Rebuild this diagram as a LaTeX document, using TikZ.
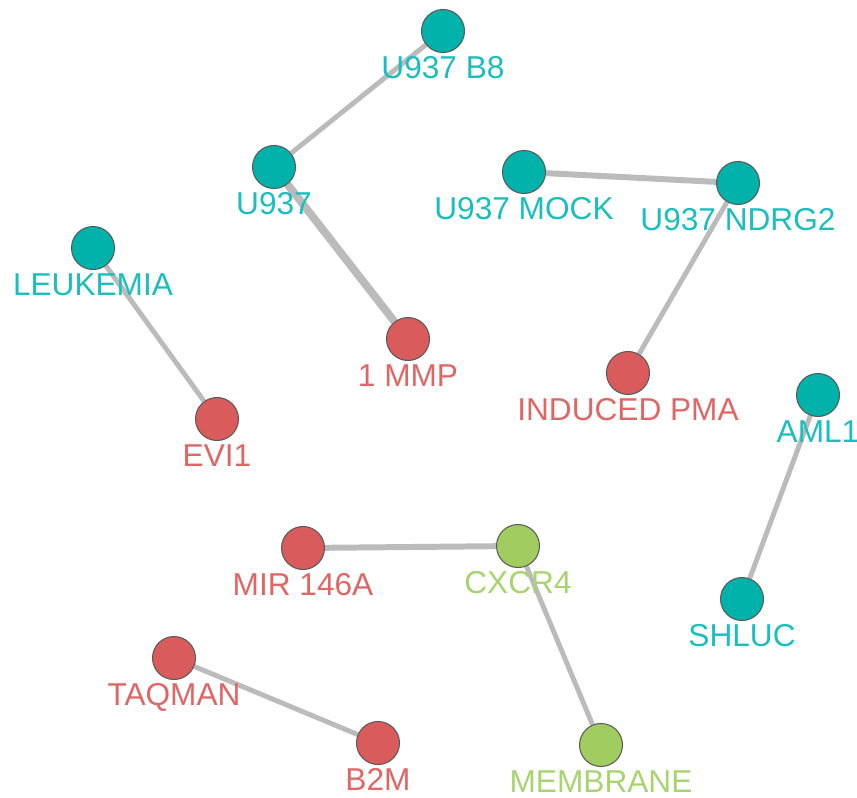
\documentclass[tikz,border=0pt]{standalone}
\usepackage{fontspec}
\setmainfont{Liberation Sans}
\usetikzlibrary{backgrounds}

\definecolor{tealn}{RGB}{0,178,170}
\definecolor{tealt}{RGB}{26,190,190}
\definecolor{redn}{RGB}{217,91,91}
\definecolor{redt}{RGB}{224,102,102}
\definecolor{greenn}{RGB}{160,204,96}
\definecolor{greent}{RGB}{168,212,111}
\definecolor{edgegray}{RGB}{187,187,187}

\begin{document}
\begin{tikzpicture}[x=0.02cm, y=-0.02cm,
  every label/.style={inner sep=0pt, font=\fontsize{18}{20}\selectfont},
  label distance=0.07cm,
  gene/.style={circle, draw=black!65, line width=0.6pt, minimum size=0.86cm, inner sep=0pt},
  teal/.style={gene, fill=tealn},
  red/.style={gene, fill=redn},
  green/.style={gene, fill=greenn},
  link/.style={draw=edgegray, line width=2.8pt},
  ]

\useasboundingbox (0,0) rectangle (857,797);

\node[teal, label={[text=tealt]below:U937 B8}] (u937b8) at (443,31) {};
\node[teal, label={[text=tealt]below:U937}] (u937) at (274,167) {};
\node[teal, label={[text=tealt]below:U937 MOCK}] (mock) at (524,172) {};
\node[teal, label={[text=tealt]below:U937 NDRG2}] (ndrg2) at (738,183) {};
\node[teal, label={[text=tealt]below:LEUKEMIA}] (leuk) at (93,248) {};
\node[red, label={[text=redt]below:1 MMP}] (mmp) at (408,339) {};
\node[red, label={[text=redt]below:INDUCED PMA}] (pma) at (628,373) {};
\node[teal, label={[text=tealt]below:AML1}] (aml1) at (818,395) {};
\node[red, label={[text=redt]below:EVI1}] (evi1) at (217,419) {};
\node[red, label={[text=redt]below:MIR 146A}] (mir) at (303,548) {};
\node[green, label={[text=greent]below:CXCR4}] (cxcr4) at (518,546) {};
\node[teal, label={[text=tealt]below:SHLUC}] (shluc) at (742,599) {};
\node[red, label={[text=redt]below:TAQMAN}] (taqman) at (174,658) {};
\node[red, label={[text=redt]below:B2M}] (b2m) at (378,743) {};
\node[green, label={[text=greent]below:MEMBRANE}] (membrane) at (601,745) {};

% connectors
\begin{scope}[on background layer]
\draw[link] (u937b8) -- (u937);
\draw[link, line width=4.5pt] (u937) -- (mmp);
\draw[link, line width=3.4pt] (mock) -- (ndrg2);
\draw[link] (ndrg2) -- (pma);
\draw[link] (leuk) -- (evi1);
\draw[link] (aml1) -- (shluc);
\draw[link, line width=3.4pt] (mir) -- (cxcr4);
\draw[link] (cxcr4) -- (membrane);
\draw[link] (taqman) -- (b2m);
\end{scope}

\end{tikzpicture}
\end{document}
